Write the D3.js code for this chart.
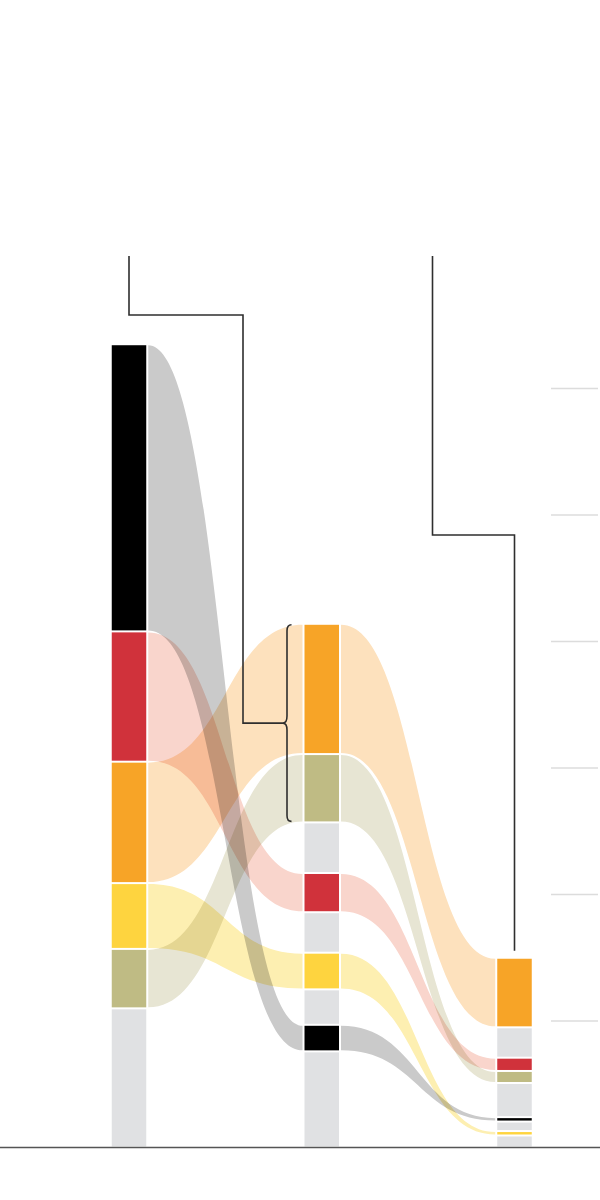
<!DOCTYPE html>
<html><head><meta charset="utf-8">
<script src="https://cdn.jsdelivr.net/npm/d3@7"></script>
<style>html,body{margin:0;padding:0;background:#fff;}svg{display:block;}</style>
</head><body>
<div id="chart"></div>
<script>
// ---- data ----
const stages = ["Stage 1", "Stage 2", "Stage 3"];
const categories = ["black", "red", "orange", "yellow", "olive", "other"];
const segmentColors = ["#000000", "#d0323b", "#f7a427", "#fed43f", "#bfbb84", "#e0e1e3"];
const flowColors = ["#cacaca", "#f9d5cc", "#fde1bd", "#fdefb1", "#e7e5d3", null];
// stacks, listed top to bottom
const stage1Segments = ["black", "red", "orange", "yellow", "olive", "other"];
const stage1Values   = [227, 103, 96, 52, 47, 110];
const stage2Segments = ["orange", "olive", "other", "red", "other", "yellow", "other", "black", "other"];
const stage2Values   = [103, 54, 40, 31, 32, 29, 28, 21, 76];
const stage3Segments = ["orange", "other", "red", "olive", "other", "black", "other", "yellow", "other"];
const stage3Values   = [55, 24, 10.5, 9.5, 27, 3.5, 7.5, 3.5, 9.5];
const gridTicks = [100, 200, 300, 400, 500, 600];

// ---- layout ----
const W = 600, H = 1200;
const svg = d3.select("#chart").append("svg").attr("width", W).attr("height", H);
const y = d3.scaleLinear().domain([0, 600]).range([1147.5, 1147.5 - 759]);
const x = d3.scalePoint().domain(stages).range([129, 514.5]);
const colW = 34.5, gap = 2, inset = 1;
const segColor = d3.scaleOrdinal().domain(categories).range(segmentColors);
const flowColor = d3.scaleOrdinal().domain(categories).range(flowColors);

function stackUp(names, values) {
  const total = d3.sum(values);
  let top = total;
  return names.map((n, i) => {
    const d = { cat: n, v1: top, v0: top - values[i] };
    top -= values[i];
    d.y0 = y(d.v1) + inset; d.y1 = y(d.v0) - inset;
    return d;
  });
}
const stacks = [
  stackUp(stage1Segments, stage1Values),
  stackUp(stage2Segments, stage2Values),
  stackUp(stage3Segments, stage3Values)
];

// gridlines
svg.append("g").selectAll("line").data(gridTicks).join("line")
  .attr("x1", 551).attr("x2", 598)
  .attr("y1", d => y(d)).attr("y2", d => y(d))
  .attr("stroke", "#dcdcdc").attr("stroke-width", 1.5);

// flows
const flowG = svg.append("g");
for (let s = 0; s < 2; s++) {
  const xa = x(stages[s]) + colW / 2 + gap;
  const xb = x(stages[s + 1]) - colW / 2 - gap;
  const xm = (xa + xb) / 2;
  stacks[s].forEach(a => {
    if (a.cat === "other") return;
    const b = stacks[s + 1].find(d => d.cat === a.cat);
    if (!b) return;
    const p = d3.path();
    p.moveTo(xa, a.y0);
    p.bezierCurveTo(xm, a.y0, xm, b.y0, xb, b.y0);
    p.lineTo(xb, b.y1);
    p.bezierCurveTo(xm, b.y1, xm, a.y1, xa, a.y1);
    p.closePath();
    flowG.append("path").attr("d", p.toString())
      .attr("fill", flowColor(a.cat))
      .style("mix-blend-mode", "multiply");
  });
}

// columns
stacks.forEach((st, i) => {
  svg.append("g").selectAll("rect").data(st).join("rect")
    .attr("x", x(stages[i]) - colW / 2)
    .attr("width", colW)
    .attr("y", d => d.y0)
    .attr("height", d => Math.max(1, d.y1 - d.y0))
    .attr("fill", d => segColor(d.cat));
});

// baseline
svg.append("line").attr("x1", 0).attr("x2", W)
  .attr("y1", y(0)).attr("y2", y(0))
  .attr("stroke", "#555").attr("stroke-width", 1.5);

// annotations
const ink = "#2e2e2e";
const braceTop = stacks[1][0].y0, braceBot = stacks[1][1].y1;
const braceMid = (braceTop + braceBot) / 2;
const bx = x(stages[1]) - colW / 2 - 17.5; // brace spine
const bp = d3.path();
bp.moveTo(bx + 4.5, braceTop);
bp.quadraticCurveTo(bx, braceTop, bx, braceTop + 6);
bp.lineTo(bx, braceMid - 7);
bp.quadraticCurveTo(bx, braceMid, bx - 4, braceMid);
bp.quadraticCurveTo(bx, braceMid, bx, braceMid + 7);
bp.lineTo(bx, braceBot - 6);
bp.quadraticCurveTo(bx, braceBot, bx + 4.5, braceBot);
svg.append("path").attr("d", bp.toString()).attr("fill", "none")
  .attr("stroke", ink).attr("stroke-width", 1.6);

const a1 = d3.path();
a1.moveTo(x(stages[0]), 256);
a1.lineTo(x(stages[0]), 315);
a1.lineTo(243, 315);
a1.lineTo(243, braceMid);
a1.lineTo(bx - 4, braceMid);
svg.append("path").attr("d", a1.toString()).attr("fill", "none")
  .attr("stroke", ink).attr("stroke-width", 1.6);

const a2 = d3.path();
a2.moveTo(432.5, 256);
a2.lineTo(432.5, 535);
a2.lineTo(x(stages[2]), 535);
a2.lineTo(x(stages[2]), stacks[2][0].y0 - 8);
svg.append("path").attr("d", a2.toString()).attr("fill", "none")
  .attr("stroke", ink).attr("stroke-width", 1.6);
</script>
</body></html>
